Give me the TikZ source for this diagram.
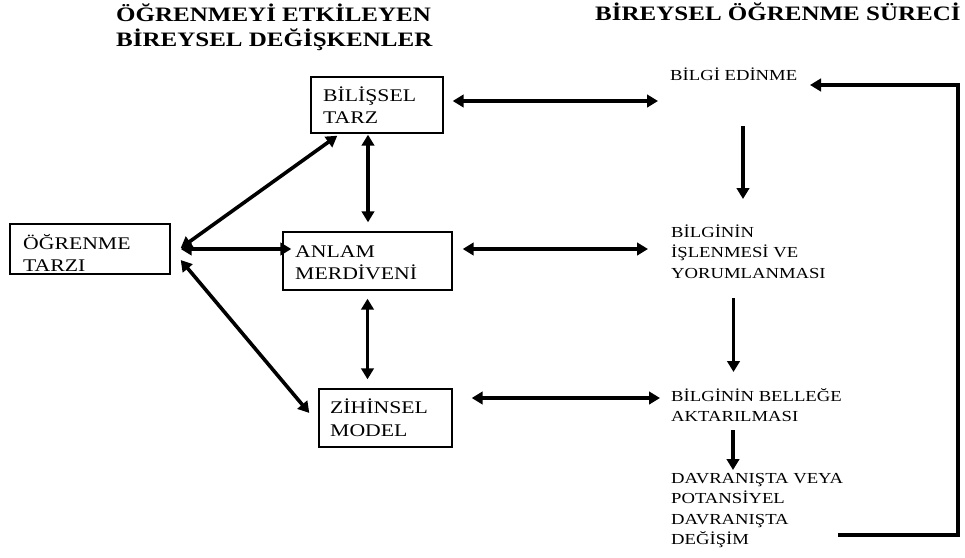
\documentclass[tikz,border=0pt]{standalone}
\usepackage{fontspec}
\setmainfont{Liberation Serif}[FakeStretch=1.22]
\usetikzlibrary{arrows.meta,calc}
\begin{document}
\begin{tikzpicture}[x=1pt,y=-1pt,
  head/.style={anchor=base west, inner sep=0pt, align=left,
    font=\fontsize{20.5}{25.5}\selectfont\bfseries},
  boxtext/.style={anchor=base west, inner sep=0pt, align=left,
    font=\fontsize{17.8}{22.5}\selectfont},
  steptext/.style={anchor=base west, inner sep=0pt, align=left,
    font=\fontsize{15.3}{20.5}\selectfont},
  frame/.style={draw, line width=1.4pt, inner sep=0pt},
  tip/.tip={Triangle[length=11pt,width=12.5pt]},
  both/.style={line width=3.6pt, tip-tip},
  fwd/.style={line width=3.6pt, -tip},
]
\useasboundingbox (0,0) rectangle (965,557);

% column headings (multi-line texts are placed by their last baseline)
\node[head] (hleft) at (116,46.5) {ÖĞRENMEYİ ETKİLEYEN\\BİREYSEL DEĞİŞKENLER};
\node[head] (hright) at (595,20) {BİREYSEL ÖĞRENME SÜRECİ};

% variable boxes
\node[frame, minimum width=160pt, minimum height=50pt] (ot) at (90,249) {};
\node[frame, minimum width=132pt, minimum height=56pt] (bt) at (377,105) {};
\node[frame, minimum width=169pt, minimum height=58pt] (am) at (367.5,261) {};
\node[frame, minimum width=133pt, minimum height=58pt] (zm) at (385.5,418) {};

\node[boxtext] (otT) at (23,271.5) {ÖĞRENME\\TARZI};
\node[boxtext] (btT) at (323,123.5) {BİLİŞSEL\\TARZ};
\node[boxtext] (amT) at (295,279.5) {ANLAM\\MERDİVENİ};
\node[boxtext] (zmT) at (330,436) {ZİHİNSEL\\MODEL};

% learning process steps
\node[steptext] (be) at (670,80) {BİLGİ EDİNME};
\node[steptext] (bi) at (671,278) {BİLGİNİN\\İŞLENMESİ VE\\YORUMLANMASI};
\node[steptext] (bb) at (671,421.5) {BİLGİNİN BELLEĞE\\AKTARILMASI};
\node[steptext] (dv) at (671,544.5) {DAVRANIŞTA VEYA\\POTANSİYEL\\DAVRANIŞTA\\DEĞİŞİM};

% links from the learning style
\draw[both] ($(ot.east)+(10,-1)$) -- ($(bt.south west)+(27,2)$);
\draw[both] ($(ot.east)+(10,0)$) -- ($(ot.east -| am.west)+(9,0)$);
\draw[both] ($(ot.east)+(10,11)$) -- ($(zm.west)+(-9,-5)$);

% links between the variables
\draw[both] ($(bt.south -| am.north)+(0.5,1)$) -- ($(am.north)+(0.5,-9)$);
\draw[both] ($(am.south)+(0,8)$) -- ($(am.south |- zm.north)+(0,-9)$);

% links from variables to process steps
\draw[both] ($(bt.east)+(9,-4)$) -- ($(bt.east -| be.west)+(-12,-4)$);
\draw[both] ($(am.east)+(10,-12)$) -- ($(am.east -| bi.west)+(-23,-12)$);
\draw[both] ($(zm.east)+(19,-20)$) -- ($(zm.east -| bb.west)+(-11,-20)$);

% process flow
\draw[fwd] ($(be.base west)+(73,46)$) -- ($(bi.base west)+(72,-79)$);
\draw[fwd] ($(bi.base west)+(62.5,20)$) -- ($(bb.base west)+(62.5,-49.5)$);
\draw[fwd] ($(bb.base west)+(62,8.5)$) -- ($(dv.base west)+(62,-74.5)$);

% feedback loop
\draw[fwd] ($(dv.base west)+(167,-9.5)$) -- ++(120,0) |- ($(be.base west)+(140,5)$);
\end{tikzpicture}
\end{document}
